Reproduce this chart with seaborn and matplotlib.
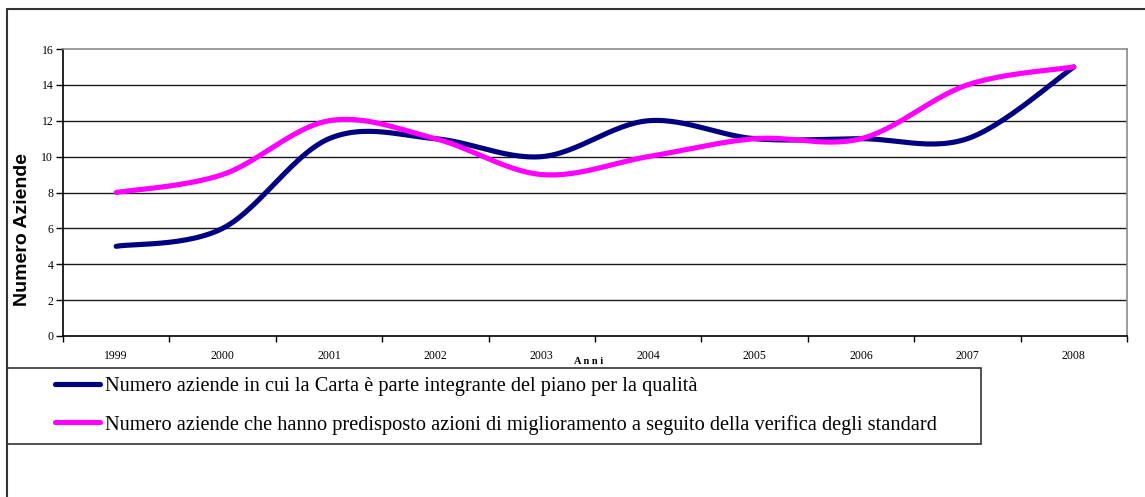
import numpy as np
import pandas as pd
import matplotlib
matplotlib.use("Agg")
import matplotlib.pyplot as plt
from matplotlib.lines import Line2D
from matplotlib.patches import Rectangle
import seaborn as sns

# Chart data
years = ["1999", "2000", "2001", "2002", "2003", "2004", "2005", "2006", "2007", "2008"]
carta_piano = [5, 6, 11, 11, 10, 12, 11, 11, 11, 15]
azioni_miglioramento = [8, 9, 12, 11, 9, 10, 11, 11, 14, 15]
series_names = [
    "Numero aziende in cui la Carta è parte integrante del piano per la qualità",
    "Numero aziende che hanno predisposto azioni di miglioramento a seguito della verifica degli standard",
]
series_colors = ["#000080", "#FF00FF"]
y_ticks = [0, 2, 4, 6, 8, 10, 12, 14, 16]

sns.set_theme(style="white")
plt.rcParams["font.family"] = ["Liberation Serif", "DejaVu Serif"]
plt.rcParams["text.color"] = "black"
plt.rcParams["xtick.color"] = "black"
plt.rcParams["ytick.color"] = "black"


def smooth_curve(values, steps=30):
    """Excel-like smoothed line: Bezier segments with Catmull-Rom control points."""
    pts = np.column_stack([np.arange(len(values)), np.asarray(values, float)])
    padded = np.vstack([pts[0], pts, pts[-1]])
    xs, ys = [], []
    t = np.linspace(0, 1, steps)[:, None]
    for i in range(len(pts) - 1):
        p0, p3 = padded[i + 1], padded[i + 2]
        c1 = p0 + (padded[i + 2] - padded[i]) / 6
        c2 = p3 - (padded[i + 3] - padded[i + 1]) / 6
        seg = ((1 - t) ** 3) * p0 + 3 * ((1 - t) ** 2) * t * c1 + 3 * (1 - t) * t ** 2 * c2 + t ** 3 * p3
        if i > 0:
            seg = seg[1:]
        xs.append(seg[:, 0])
        ys.append(seg[:, 1])
    return np.concatenate(xs), np.concatenate(ys)


frames = []
for name, vals in zip(series_names, [carta_piano, azioni_miglioramento]):
    sx, sy = smooth_curve(vals)
    frames.append(pd.DataFrame({"x": sx, "y": sy, "serie": name}))
df = pd.concat(frames, ignore_index=True)

fig = plt.figure(figsize=(11.45, 4.97), dpi=100)
ax = fig.add_axes([63 / 1145, 1 - 336 / 497, (1127 - 63) / 1145, (336 - 49) / 497])

sns.lineplot(data=df, x="x", y="y", hue="serie", palette=dict(zip(series_names, series_colors)),
             sort=False, estimator=None, linewidth=3.7, legend=False, ax=ax,
             solid_capstyle="round")

ax.set_xlim(-0.5, len(years) - 0.5)
ax.set_ylim(0, 16)
ax.set_yticks(y_ticks)
ax.set_yticklabels([str(v) for v in y_ticks], fontsize=8.5)
ax.set_xticks(range(len(years)))
ax.set_xticklabels(years, fontsize=8.5)
ax.set_xticks(np.arange(-0.5, len(years)), minor=True)
ax.tick_params(axis="x", which="major", length=0, pad=10)
ax.tick_params(axis="x", which="minor", length=4, width=1, color="black", direction="out", bottom=True)
ax.tick_params(axis="y", length=5, width=1, color="black", direction="out", left=True, pad=2)
ax.set_xlabel("")
ax.set_ylabel("")

for v in y_ticks[1:-1]:
    ax.axhline(v, color="#1a1a1a", linewidth=1, zorder=0)
for side in ["left", "bottom"]:
    ax.spines[side].set_color("black")
    ax.spines[side].set_linewidth(1.2)
for side in ["top", "right"]:
    ax.spines[side].set_color("#8c8c8c")
    ax.spines[side].set_linewidth(1.2)

fig.text(23 / 1145, 1 - 230 / 497, "Numero Aziende", rotation=90, ha="center", va="center",
         fontsize=14, fontweight="bold", family=["Liberation Sans", "DejaVu Sans"])
fig.text(589 / 1145, 1 - 362 / 497, "A n n i", ha="center", va="center", fontsize=7.5, fontweight="bold")

# outer chart frame (top and left edges visible)
fig.add_artist(Line2D([7 / 1145, 1], [1 - 9 / 497, 1 - 9 / 497], transform=fig.transFigure,
                      color="#333333", linewidth=1.5))
fig.add_artist(Line2D([7 / 1145, 7 / 1145], [0, 1 - 9 / 497], transform=fig.transFigure,
                      color="#333333", linewidth=1.5))

# legend box
fig.add_artist(Rectangle((7 / 1145, 1 - 444 / 497), (981 - 7) / 1145, (444 - 368) / 497,
                         transform=fig.transFigure, fill=False, edgecolor="#333333", linewidth=1.2))
handles = [Line2D([], [], color=c, linewidth=3.7, solid_capstyle="round") for c in series_colors]
fig.legend(handles, series_names, loc="upper left", bbox_to_anchor=(55 / 1145, 1 - 377 / 497),
           frameon=False, fontsize=14.7, handlelength=2.2, handletextpad=0.25,
           labelspacing=0.9, borderaxespad=0, borderpad=0)

fig.savefig("out.png", dpi=100)
